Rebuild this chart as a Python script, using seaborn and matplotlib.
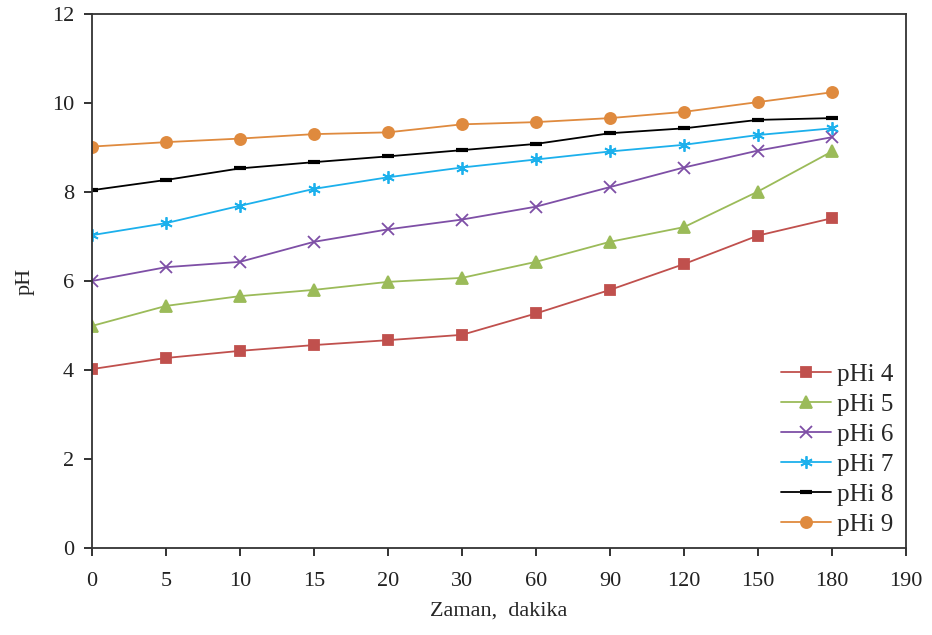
import seaborn as sns
import matplotlib.pyplot as plt
import pandas as pd

times = [0, 5, 10, 15, 20, 30, 60, 90, 120, 150, 180]
tick_labels = ["0", "5", "10", "15", "20", "30", "60", "90", "120", "150", "180", "190"]

ph4 = [4.02, 4.27, 4.43, 4.56, 4.67, 4.79, 5.27, 5.80, 6.38, 7.02, 7.41]
ph5 = [4.99, 5.44, 5.66, 5.80, 5.98, 6.07, 6.43, 6.88, 7.21, 8.01, 8.91]
ph6 = [6.00, 6.31, 6.43, 6.88, 7.16, 7.38, 7.67, 8.11, 8.55, 8.93, 9.23]
ph7 = [7.03, 7.30, 7.69, 8.07, 8.33, 8.55, 8.73, 8.91, 9.06, 9.28, 9.43]
ph8 = [8.04, 8.27, 8.53, 8.67, 8.80, 8.94, 9.08, 9.32, 9.43, 9.62, 9.66]
ph9 = [9.02, 9.12, 9.20, 9.30, 9.34, 9.52, 9.57, 9.66, 9.80, 10.02, 10.24]

names = ["pHi 4", "pHi 5", "pHi 6", "pHi 7", "pHi 8", "pHi 9"]
series = [ph4, ph5, ph6, ph7, ph8, ph9]

colors = ["#C0504D", "#9BBB59", "#7E4FA6", "#1CB0EC", "#000000", "#DF8A3E"]
markers = ["s", "^", "x", (6, 2, 0), "_", "o"]
msizes = [7.5, 8, 8, 9, 8, 8]

sns.set_style("ticks")
plt.rcParams["font.family"] = ["Liberation Serif", "DejaVu Serif"]

fig = plt.figure(figsize=(9.32, 6.35), dpi=100)
ax = fig.add_axes([0.0987, 0.137, 0.8733, 0.841])

pos = list(range(len(times)))
for name, vals, c, m, ms in zip(names, series, colors, markers, msizes):
    df = pd.DataFrame({"pos": pos, "ph": vals})
    ew = 3.0 if m == "_" else 1.3
    sns.lineplot(data=df, x="pos", y="ph", ax=ax, color=c, marker=m,
                 markersize=ms, markeredgecolor=c, markeredgewidth=ew,
                 linewidth=1.3, label=name)

ax.set_xlim(0, len(tick_labels) - 1)
ax.set_ylim(0, 12)
ax.set_xticks(range(len(tick_labels)))
ax.set_xticklabels(tick_labels)
ax.set_yticks(range(0, 13, 2))
ax.tick_params(axis="both", labelsize=16, direction="out", length=6, width=1.3,
               colors="#222222")
ax.tick_params(axis="x", pad=11)
ax.tick_params(axis="y", pad=7)
for s in ax.spines.values():
    s.set_linewidth(1.3)
    s.set_color("#333333")

ax.set_xlabel("Zaman,  dakika", fontsize=16, labelpad=8)
ax.set_ylabel("pH", fontsize=16, labelpad=12)

ax.legend(loc="lower right", frameon=False, fontsize=18, handlelength=2.0,
          labelspacing=0.3, handletextpad=0.25, borderaxespad=0.1)

fig.savefig("out.png", dpi=100)
